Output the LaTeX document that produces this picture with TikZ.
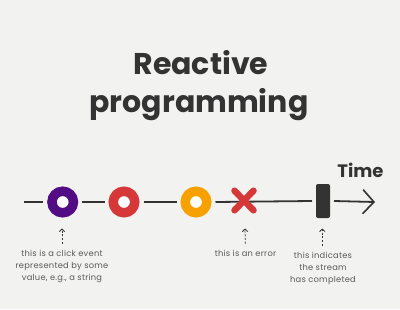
\documentclass[tikz,border=0pt]{standalone}
\usepackage{fontspec}
\setmainfont{Poppins}
\newfontfamily\notefont{Poppins}[LetterSpace=3]
\usetikzlibrary{arrows.meta}
\definecolor{bg}{HTML}{F2F2F0}
\definecolor{ink}{HTML}{333333}
\definecolor{note}{HTML}{5A5A5A}
\definecolor{evpurple}{HTML}{520C84}
\definecolor{evred}{HTML}{D6383A}
\definecolor{evorange}{HTML}{F7A100}
\tikzset{
  ring/.style={circle, draw=#1, line width=9.5pt, fill=white, minimum size=21.5pt, inner sep=0pt, outer sep=8.75pt},
  stream/.style={draw=ink, line width=1.8pt},
  endbar/.style={rectangle, fill=ink, rounded corners=2pt, minimum width=14pt, minimum height=34pt, inner sep=0pt, outer sep=4pt},
  errx/.style={draw=evred, line width=6.5pt, line cap=round},
  notetext/.style={align=center, text=note, font=\notefont\fontsize{8.3}{12.3}\selectfont, inner sep=0pt, anchor=north},
  notearrow/.style={draw=ink, line width=0.8pt, dash pattern=on 2pt off 1.6pt, -{Straight Barb[length=2.6pt,width=5.5pt,line width=0.8pt]}},
  titletext/.style={text=ink, font=\fontsize{30}{36}\selectfont\bfseries, inner sep=0pt, anchor=base}
}
\begin{document}
\begin{tikzpicture}[x=1pt,y=-1pt]
\fill[bg] (0,0) rectangle (400,309);
% title
\node[titletext] (t1) at (201,74) {Reactive};
\node[titletext] (t2) at (199,112) {programming};
\node[text=ink, font=\fontsize{18}{20}\selectfont\bfseries, inner sep=0pt, anchor=base] (time) at (360.5,177.5) {Time};
% stream
\coordinate (s) at (24,202);
\node[ring=evpurple] (p) at (62.7,202) {};
\node[ring=evred] (r) at (124,202) {};
\node[ring=evorange] (o) at (196,202) {};
\node[endbar] (b) at (323,201) {};
\coordinate (e) at (375,202);
\draw[stream] (s) -- (p.west);
\draw[stream] (p.east) -- (r.west);
\draw[stream] (r.east) -- (o.west);
\draw[stream] (o.east) -- (b.west);
\draw[stream, -{Straight Barb[length=11pt,width=24pt,line width=1.6pt]}] (b.east) -- (e);
% error cross
\coordinate (x) at (244,200.5);
\draw[errx] (x) ++(-9.5,-9.8) -- ++(19,19.6);
\draw[errx] (x) ++(9.5,-9.8) -- ++(-19,19.6);
% notes
\node[notetext] (n1) at (62,249.5) {this is a click event\\represented by some\\value, e.g., a string};
\node[notetext] (n2) at (245.5,249.5) {this is an error};
\node[notetext] (n3) at (323,251.5) {this indicates\\the stream\\has completed};
\coordinate (a1) at (62,228.5);
\coordinate (a2) at (245,228.5);
\coordinate (a3) at (322.3,228.5);
\draw[notearrow, shorten <=6pt] (n1.north) -- (a1);
\draw[notearrow, shorten <=6pt] (n2.north) -- (a2);
\draw[notearrow, shorten <=6pt] (n3.north -| a3) -- (a3);
\end{tikzpicture}
\end{document}
